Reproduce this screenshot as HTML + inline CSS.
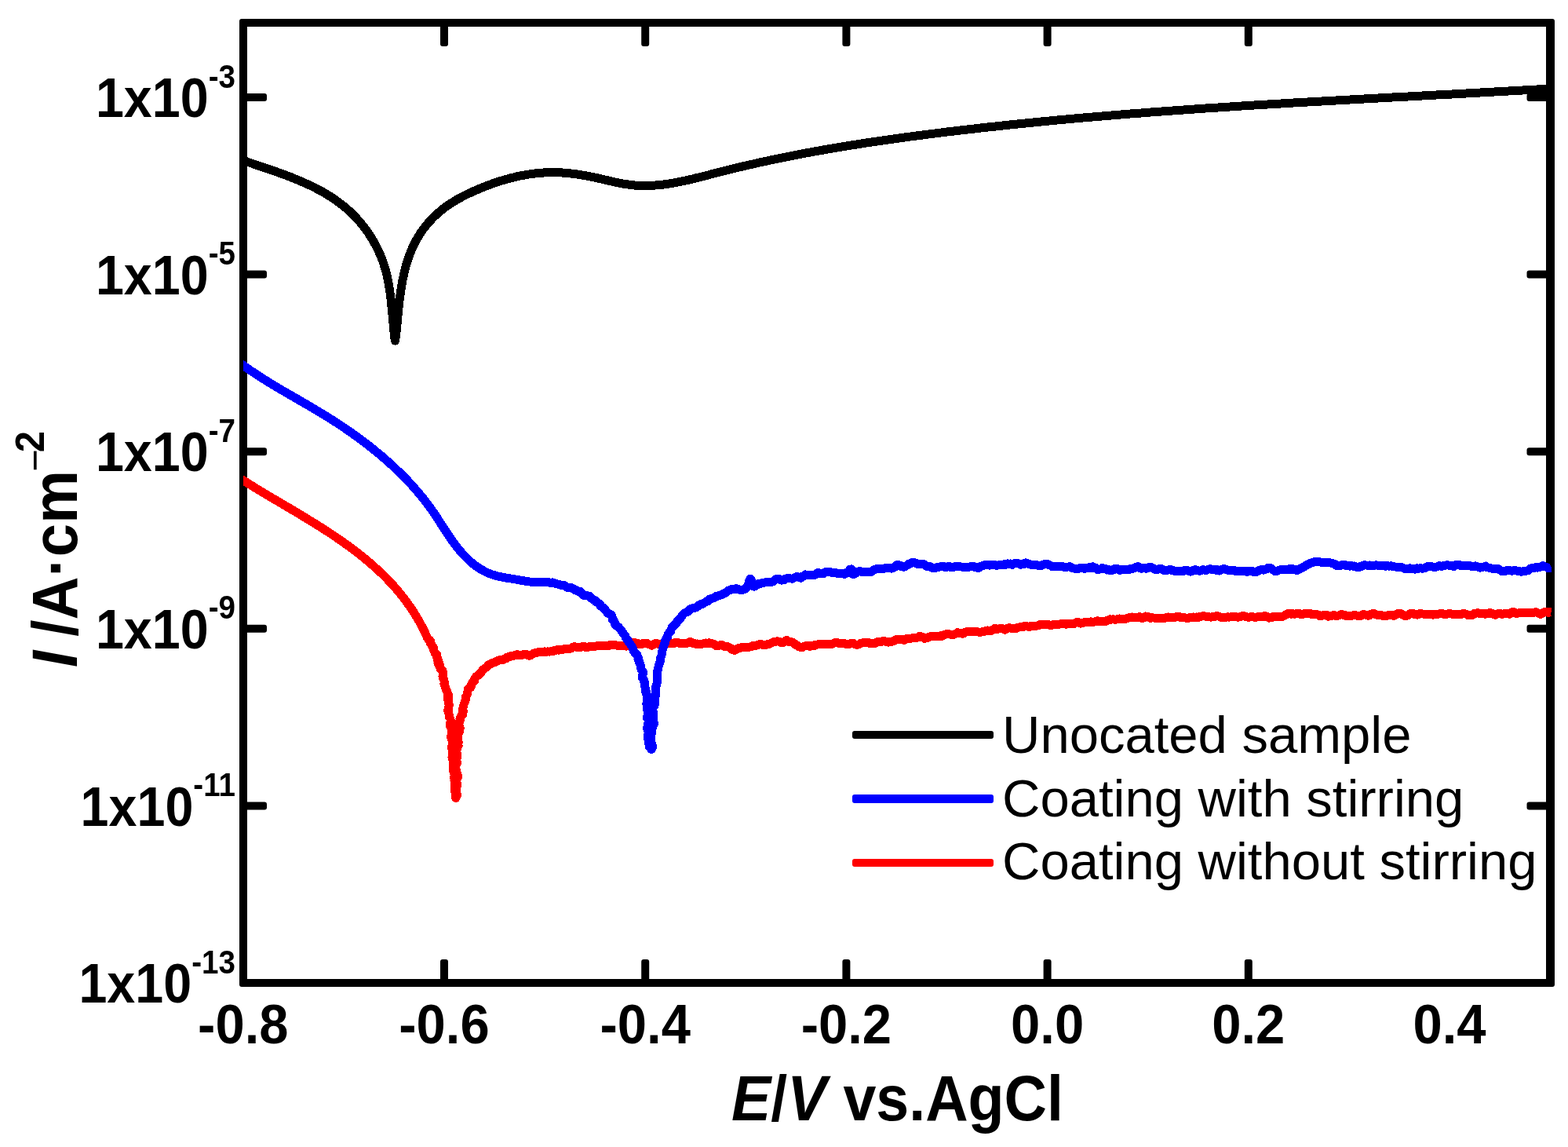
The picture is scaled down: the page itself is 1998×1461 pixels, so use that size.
<!DOCTYPE html>
<html><head><meta charset="utf-8"><title>Polarization curves</title>
<style>
html,body{margin:0;padding:0;background:#fff;}
body{width:1998px;height:1461px;overflow:hidden;}
svg{display:block;}
text{font-family:"Liberation Sans",Arial,Helvetica,sans-serif;}
</style></head>
<body>
<svg width="1998" height="1461" viewBox="0 0 1998 1461">
<rect width="1998" height="1461" fill="#fff"/>
<rect x="305" y="24" width="1676" height="1233" rx="3" fill="#000"/>
<rect x="315" y="34" width="1655" height="1213" fill="#fff"/>
<g fill="#000">
<rect x="561.0" y="1222" width="10" height="30" rx="3"/>
<rect x="561.0" y="29" width="10" height="30" rx="3"/>
<rect x="817.2" y="1222" width="10" height="30" rx="3"/>
<rect x="817.2" y="29" width="10" height="30" rx="3"/>
<rect x="1073.4" y="1222" width="10" height="30" rx="3"/>
<rect x="1073.4" y="29" width="10" height="30" rx="3"/>
<rect x="1329.6" y="1222" width="10" height="30" rx="3"/>
<rect x="1329.6" y="29" width="10" height="30" rx="3"/>
<rect x="1585.8" y="1222" width="10" height="30" rx="3"/>
<rect x="1585.8" y="29" width="10" height="30" rx="3"/>
<rect x="310" y="119.0" width="30" height="10" rx="3"/>
<rect x="1945.5" y="119.0" width="30" height="10" rx="3"/>
<rect x="310" y="344.6" width="30" height="10" rx="3"/>
<rect x="1945.5" y="344.6" width="30" height="10" rx="3"/>
<rect x="310" y="570.2" width="30" height="10" rx="3"/>
<rect x="1945.5" y="570.2" width="30" height="10" rx="3"/>
<rect x="310" y="795.8" width="30" height="10" rx="3"/>
<rect x="1945.5" y="795.8" width="30" height="10" rx="3"/>
<rect x="310" y="1021.4" width="30" height="10" rx="3"/>
<rect x="1945.5" y="1021.4" width="30" height="10" rx="3"/>
</g>
<defs><clipPath id="pc"><rect x="310" y="0" width="1667" height="1461"/></clipPath></defs>
<g fill="none" stroke-width="11" stroke-linejoin="round" clip-path="url(#pc)" shape-rendering="crispEdges">
<path stroke="#000" d="M304.3,202.4L306.1,203.1L308.0,203.7L309.8,204.4L311.6,205.0L313.5,205.6L315.4,206.3L317.2,206.9L319.1,207.6L321.0,208.2L322.9,208.8L324.7,209.5L326.6,210.1L328.5,210.8L330.4,211.4L332.3,212.0L334.3,212.7L336.2,213.3L338.1,214.0L340.0,214.6L341.9,215.3L343.8,216.0L345.8,216.6L347.7,217.3L349.6,218.0L351.5,218.6L353.5,219.3L355.4,220.0L357.3,220.7L359.2,221.4L361.1,222.1L363.1,222.8L365.0,223.5L366.9,224.3L368.8,225.0L370.7,225.7L372.6,226.5L374.5,227.3L376.4,228.0L378.3,228.8L380.2,229.6L382.1,230.4L384.0,231.2L385.9,232.0L387.7,232.8L389.6,233.7L391.5,234.5L393.3,235.4L395.2,236.2L397.0,237.1L398.8,238.0L400.6,238.9L402.5,239.8L404.3,240.8L406.1,241.7L407.8,242.7L409.6,243.7L411.4,244.6L413.1,245.6L414.9,246.7L416.6,247.7L418.3,248.8L420.1,249.8L421.8,250.9L423.4,252.0L425.1,253.1L426.8,254.2L428.4,255.4L430.1,256.6L431.7,257.8L433.3,259.0L434.9,260.2L436.5,261.4L438.0,262.7L439.6,264.0L441.1,265.3L442.6,266.6L444.1,267.9L445.6,269.3L447.1,270.7L448.5,272.1L449.9,273.5L451.3,274.9L452.7,276.4L454.1,277.8L455.5,279.3L456.8,280.8L458.2,282.3L459.5,283.8L460.7,285.4L462.0,287.0L463.3,288.5L464.5,290.1L465.7,291.7L466.9,293.4L468.1,295.0L469.2,296.6L470.3,298.3L471.4,300.0L472.5,301.7L473.6,303.4L474.6,305.1L475.7,306.9L476.7,308.6L477.6,310.4L478.6,312.1L479.5,313.9L480.4,315.7L481.3,317.5L482.2,319.3L483.0,321.2L483.9,323.0L484.7,324.9L485.4,326.7L486.2,328.6L486.9,330.5L487.6,332.4L488.3,334.3L488.9,336.2L489.5,338.1L490.1,340.0L490.7,342.0L491.2,343.9L491.8,345.9L492.3,347.8L492.8,349.8L493.2,351.8L493.7,353.8L494.1,355.8L494.5,357.8L494.9,359.8L495.2,361.8L495.6,363.8L495.9,365.8L496.3,367.8L496.6,369.8L496.9,371.8L497.1,373.9L497.4,375.9L497.7,377.9L497.9,380.0L498.2,382.0L498.4,384.0L498.6,386.1L498.8,388.1L499.0,390.1L499.2,392.2L499.4,394.2L499.6,396.2L499.8,398.3L500.0,400.3L500.2,402.3L500.4,404.3L500.5,406.4L500.7,408.4L500.9,410.4L501.1,412.4L501.2,414.4L501.4,416.4L501.6,418.4L501.8,420.4L502.0,422.4L502.2,424.4L502.4,426.3L502.6,428.3L502.8,430.3L503.1,432.2L503.5,434.1L503.9,432.2L504.1,430.2L504.3,428.3L504.6,426.3L504.8,424.4L505.0,422.4L505.2,420.5L505.4,418.5L505.6,416.6L505.8,414.6L506.0,412.6L506.2,410.6L506.4,408.7L506.6,406.7L506.8,404.7L506.9,402.7L507.1,400.7L507.3,398.7L507.5,396.7L507.7,394.8L507.9,392.8L508.1,390.8L508.4,388.8L508.6,386.8L508.8,384.7L509.0,382.7L509.3,380.7L509.5,378.7L509.8,376.7L510.1,374.7L510.3,372.7L510.6,370.7L510.9,368.7L511.3,366.7L511.6,364.7L511.9,362.7L512.3,360.7L512.7,358.7L513.0,356.7L513.4,354.7L513.9,352.7L514.3,350.7L514.7,348.7L515.2,346.8L515.7,344.8L516.2,342.8L516.7,340.9L517.2,338.9L517.8,337.0L518.4,335.0L519.0,333.1L519.6,331.2L520.2,329.3L520.9,327.4L521.5,325.5L522.2,323.6L523.0,321.8L523.7,319.9L524.5,318.1L525.3,316.2L526.1,314.4L527.0,312.6L527.8,310.8L528.7,309.1L529.6,307.3L530.6,305.6L531.6,303.8L532.6,302.1L533.6,300.4L534.7,298.8L535.7,297.1L536.8,295.5L538.0,293.8L539.1,292.2L540.3,290.6L541.5,289.1L542.8,287.5L544.0,286.0L545.3,284.5L546.6,283.0L547.9,281.5L549.3,280.0L550.6,278.6L552.0,277.2L553.4,275.8L554.9,274.4L556.3,273.1L557.8,271.7L559.3,270.4L560.8,269.1L562.3,267.9L563.9,266.6L565.4,265.4L567.0,264.2L568.6,263.0L570.2,261.9L571.9,260.8L573.5,259.7L575.2,258.6L576.9,257.5L578.6,256.5L580.3,255.4L582.0,254.4L583.7,253.4L585.5,252.5L587.2,251.5L589.0,250.6L590.8,249.7L592.6,248.7L594.4,247.9L596.2,247.0L598.0,246.1L599.8,245.3L601.7,244.4L603.5,243.6L605.4,242.8L607.2,242.0L609.1,241.2L610.9,240.4L612.8,239.6L614.7,238.8L616.6,238.1L618.4,237.3L620.3,236.6L622.2,235.9L624.1,235.2L626.0,234.5L627.9,233.8L629.9,233.1L631.8,232.5L633.7,231.8L635.6,231.2L637.6,230.6L639.5,230.0L641.4,229.4L643.4,228.8L645.3,228.3L647.3,227.8L649.2,227.2L651.2,226.7L653.1,226.2L655.1,225.8L657.0,225.3L659.0,224.8L661.0,224.4L662.9,224.0L664.9,223.6L666.9,223.2L668.8,222.9L670.8,222.5L672.8,222.2L674.8,221.9L676.7,221.6L678.7,221.4L680.7,221.1L682.7,220.9L684.7,220.7L686.6,220.5L688.6,220.3L690.6,220.1L692.6,220.0L694.6,219.9L696.5,219.8L698.5,219.7L700.5,219.7L702.5,219.7L704.5,219.6L706.4,219.7L708.4,219.7L710.4,219.7L712.4,219.8L714.3,219.9L716.3,220.0L718.3,220.1L720.3,220.3L722.2,220.5L724.2,220.6L726.2,220.8L728.2,221.1L730.1,221.3L732.1,221.5L734.1,221.8L736.1,222.1L738.0,222.4L740.0,222.7L742.0,223.0L744.0,223.4L745.9,223.7L747.9,224.1L749.9,224.4L751.9,224.8L753.8,225.2L755.8,225.7L757.8,226.1L759.8,226.5L761.8,227.0L763.7,227.4L765.7,227.9L767.7,228.3L769.7,228.8L771.7,229.3L773.7,229.7L775.7,230.2L777.6,230.6L779.6,231.1L781.6,231.5L783.6,232.0L785.6,232.4L787.6,232.8L789.5,233.2L791.5,233.6L793.5,234.0L795.5,234.3L797.5,234.6L799.5,234.9L801.4,235.2L803.4,235.5L805.4,235.7L807.4,235.9L809.3,236.1L811.3,236.2L813.3,236.3L815.3,236.4L817.2,236.5L819.2,236.5L821.2,236.5L823.1,236.5L825.1,236.5L827.1,236.5L829.0,236.4L831.0,236.3L833.0,236.2L834.9,236.0L836.9,235.9L838.9,235.7L840.8,235.5L842.8,235.3L844.7,235.1L846.7,234.8L848.7,234.6L850.6,234.3L852.6,234.0L854.5,233.7L856.5,233.3L858.4,233.0L860.4,232.7L862.4,232.3L864.3,231.9L866.3,231.5L868.2,231.1L870.2,230.7L872.1,230.3L874.1,229.9L876.0,229.4L878.0,229.0L879.9,228.5L881.9,228.1L883.8,227.6L885.8,227.1L887.8,226.6L889.7,226.2L891.7,225.7L893.6,225.2L895.6,224.7L897.5,224.2L899.5,223.7L901.4,223.2L903.4,222.7L905.3,222.1L907.3,221.6L909.2,221.1L911.2,220.6L913.1,220.1L915.1,219.6L917.0,219.1L919.0,218.6L920.9,218.1L922.9,217.6L924.9,217.1L926.8,216.7L928.8,216.2L930.7,215.7L932.7,215.2L934.6,214.7L936.6,214.3L938.5,213.8L940.5,213.3L942.5,212.8L944.4,212.4L946.4,211.9L948.3,211.5L950.3,211.0L952.3,210.6L954.2,210.1L956.2,209.7L958.1,209.2L960.1,208.8L962.1,208.3L964.0,207.9L966.0,207.4L967.9,207.0L969.9,206.6L971.9,206.1L973.8,205.7L975.8,205.3L977.7,204.9L979.7,204.5L981.7,204.0L983.6,203.6L985.6,203.2L987.6,202.8L989.5,202.4L991.5,202.0L993.5,201.6L995.4,201.2L997.4,200.8L999.4,200.4L1001.3,200.0L1003.3,199.6L1005.3,199.2L1007.2,198.8L1009.2,198.4L1011.2,198.0L1013.1,197.6L1015.1,197.3L1017.1,196.9L1019.0,196.5L1021.0,196.1L1023.0,195.8L1024.9,195.4L1026.9,195.0L1028.9,194.6L1030.8,194.3L1032.8,193.9L1034.8,193.6L1036.7,193.2L1038.7,192.8L1040.7,192.5L1042.7,192.1L1044.6,191.8L1046.6,191.4L1048.6,191.1L1050.5,190.7L1052.5,190.4L1054.5,190.0L1056.5,189.7L1058.4,189.4L1060.4,189.0L1062.4,188.7L1064.4,188.4L1066.3,188.0L1068.3,187.7L1070.3,187.4L1072.2,187.0L1074.2,186.7L1076.2,186.4L1078.2,186.1L1080.1,185.8L1082.1,185.4L1084.1,185.1L1086.1,184.8L1088.0,184.5L1090.0,184.2L1092.0,183.9L1094.0,183.6L1096.0,183.2L1097.9,182.9L1099.9,182.6L1101.9,182.3L1103.9,182.0L1105.8,181.7L1107.8,181.4L1109.8,181.1L1111.8,180.8L1113.7,180.5L1115.7,180.3L1117.7,180.0L1119.7,179.7L1121.7,179.4L1123.6,179.1L1125.6,178.8L1127.6,178.5L1129.6,178.2L1131.6,178.0L1133.5,177.7L1135.5,177.4L1137.5,177.1L1139.5,176.8L1141.5,176.6L1143.4,176.3L1145.4,176.0L1147.4,175.7L1149.4,175.5L1151.4,175.2L1153.4,174.9L1155.3,174.7L1157.3,174.4L1159.3,174.1L1161.3,173.9L1163.3,173.6L1165.2,173.3L1167.2,173.1L1169.2,172.8L1171.2,172.6L1173.2,172.3L1175.2,172.0L1177.1,171.8L1179.1,171.5L1181.1,171.3L1183.1,171.0L1185.1,170.8L1187.1,170.5L1189.0,170.3L1191.0,170.0L1193.0,169.8L1195.0,169.5L1197.0,169.3L1199.0,169.0L1201.0,168.8L1202.9,168.5L1204.9,168.3L1206.9,168.0L1208.9,167.8L1210.9,167.6L1212.9,167.3L1214.9,167.1L1216.8,166.8L1218.8,166.6L1220.8,166.4L1222.8,166.1L1224.8,165.9L1226.8,165.7L1228.8,165.4L1230.8,165.2L1232.7,165.0L1234.7,164.7L1236.7,164.5L1238.7,164.3L1240.7,164.1L1242.7,163.8L1244.7,163.6L1246.7,163.4L1248.6,163.2L1250.6,162.9L1252.6,162.7L1254.6,162.5L1256.6,162.3L1258.6,162.0L1260.6,161.8L1262.6,161.6L1264.6,161.4L1266.5,161.2L1268.5,161.0L1270.5,160.7L1272.5,160.5L1274.5,160.3L1276.5,160.1L1278.5,159.9L1280.5,159.7L1282.5,159.5L1284.5,159.3L1286.4,159.0L1288.4,158.8L1290.4,158.6L1292.4,158.4L1294.4,158.2L1296.4,158.0L1298.4,157.8L1300.4,157.6L1302.4,157.4L1304.4,157.2L1306.4,157.0L1308.3,156.8L1310.3,156.6L1312.3,156.4L1314.3,156.2L1316.3,156.0L1318.3,155.8L1320.3,155.6L1322.3,155.4L1324.3,155.2L1326.3,155.0L1328.3,154.8L1330.3,154.6L1332.3,154.4L1334.2,154.3L1336.2,154.1L1338.2,153.9L1340.2,153.7L1342.2,153.5L1344.2,153.3L1346.2,153.1L1348.2,152.9L1350.2,152.7L1352.2,152.6L1354.2,152.4L1356.2,152.2L1358.2,152.0L1360.2,151.8L1362.2,151.6L1364.2,151.5L1366.1,151.3L1368.1,151.1L1370.1,150.9L1372.1,150.7L1374.1,150.6L1376.1,150.4L1378.1,150.2L1380.1,150.0L1382.1,149.9L1384.1,149.7L1386.1,149.5L1388.1,149.3L1390.1,149.2L1392.1,149.0L1394.1,148.8L1396.1,148.7L1398.1,148.5L1400.1,148.3L1402.1,148.1L1404.1,148.0L1406.1,147.8L1408.1,147.6L1410.1,147.5L1412.0,147.3L1414.0,147.1L1416.0,147.0L1418.0,146.8L1420.0,146.7L1422.0,146.5L1424.0,146.3L1426.0,146.2L1428.0,146.0L1430.0,145.8L1432.0,145.7L1434.0,145.5L1436.0,145.4L1438.0,145.2L1440.0,145.0L1442.0,144.9L1444.0,144.7L1446.0,144.6L1448.0,144.4L1450.0,144.3L1452.0,144.1L1454.0,144.0L1456.0,143.8L1458.0,143.6L1460.0,143.5L1462.0,143.3L1464.0,143.2L1466.0,143.0L1468.0,142.9L1470.0,142.7L1472.0,142.6L1474.0,142.4L1476.0,142.3L1478.0,142.1L1480.0,142.0L1482.0,141.8L1484.0,141.7L1486.0,141.6L1488.0,141.4L1490.0,141.3L1492.0,141.1L1494.0,141.0L1496.0,140.8L1498.0,140.7L1500.0,140.5L1502.0,140.4L1504.0,140.3L1506.0,140.1L1508.0,140.0L1510.0,139.8L1512.0,139.7L1514.0,139.6L1516.0,139.4L1518.0,139.3L1520.0,139.1L1522.0,139.0L1524.0,138.9L1525.9,138.7L1527.9,138.6L1529.9,138.5L1531.9,138.3L1533.9,138.2L1535.9,138.0L1537.9,137.9L1539.9,137.8L1541.9,137.6L1543.9,137.5L1545.9,137.4L1547.9,137.2L1550.0,137.1L1552.0,137.0L1554.0,136.8L1556.0,136.7L1558.0,136.6L1560.0,136.5L1562.0,136.3L1564.0,136.2L1566.0,136.1L1568.0,135.9L1570.0,135.8L1572.0,135.7L1574.0,135.6L1576.0,135.4L1578.0,135.3L1580.0,135.2L1582.0,135.0L1584.0,134.9L1586.0,134.8L1588.0,134.7L1590.0,134.5L1592.0,134.4L1594.0,134.3L1596.0,134.2L1598.0,134.0L1600.0,133.9L1602.0,133.8L1604.0,133.7L1606.0,133.6L1608.0,133.4L1610.0,133.3L1612.0,133.2L1614.0,133.1L1616.0,132.9L1618.0,132.8L1620.0,132.7L1622.0,132.6L1624.0,132.5L1626.0,132.3L1628.0,132.2L1630.0,132.1L1632.0,132.0L1634.0,131.9L1636.0,131.7L1638.0,131.6L1640.0,131.5L1642.0,131.4L1644.0,131.3L1646.0,131.2L1648.0,131.0L1650.0,130.9L1652.0,130.8L1654.0,130.7L1656.0,130.6L1658.0,130.5L1660.0,130.3L1662.0,130.2L1664.0,130.1L1666.0,130.0L1668.0,129.9L1670.0,129.8L1672.0,129.7L1674.0,129.5L1676.0,129.4L1678.0,129.3L1680.0,129.2L1682.0,129.1L1684.0,129.0L1686.0,128.9L1688.0,128.7L1690.0,128.6L1692.0,128.5L1694.0,128.4L1696.0,128.3L1698.0,128.2L1700.0,128.1L1702.0,128.0L1704.0,127.9L1706.0,127.7L1708.0,127.6L1710.0,127.5L1712.0,127.4L1714.0,127.3L1716.0,127.2L1718.0,127.1L1720.0,127.0L1722.0,126.9L1724.0,126.7L1726.0,126.6L1728.0,126.5L1730.0,126.4L1732.0,126.3L1734.0,126.2L1736.0,126.1L1738.0,126.0L1740.0,125.9L1742.0,125.8L1744.0,125.7L1746.0,125.5L1748.0,125.4L1750.0,125.3L1752.0,125.2L1754.0,125.1L1756.0,125.0L1758.1,124.9L1760.1,124.8L1762.1,124.7L1764.1,124.6L1766.1,124.5L1768.1,124.4L1770.1,124.2L1772.1,124.1L1774.1,124.0L1776.1,123.9L1778.1,123.8L1780.1,123.7L1782.1,123.6L1784.1,123.5L1786.1,123.4L1788.1,123.3L1790.1,123.2L1792.1,123.1L1794.1,123.0L1796.1,122.9L1798.1,122.7L1800.1,122.6L1802.1,122.5L1804.1,122.4L1806.1,122.3L1808.1,122.2L1810.1,122.1L1812.1,122.0L1814.1,121.9L1816.1,121.8L1818.1,121.7L1820.1,121.6L1822.1,121.5L1824.1,121.4L1826.1,121.2L1828.1,121.1L1830.1,121.0L1832.1,120.9L1834.1,120.8L1836.0,120.7L1838.0,120.6L1840.0,120.5L1842.0,120.4L1844.0,120.3L1846.0,120.2L1848.0,120.1L1850.0,120.0L1852.0,119.8L1854.0,119.7L1856.0,119.6L1858.0,119.5L1860.0,119.4L1862.0,119.3L1864.0,119.2L1866.0,119.1L1868.0,119.0L1870.0,118.9L1872.0,118.8L1874.0,118.7L1876.0,118.6L1878.0,118.4L1880.0,118.3L1882.0,118.2L1884.0,118.1L1886.0,118.0L1888.0,117.9L1890.0,117.8L1892.0,117.7L1894.0,117.6L1896.0,117.5L1898.0,117.4L1900.0,117.2L1902.0,117.1L1904.0,117.0L1906.0,116.9L1908.0,116.8L1910.0,116.7L1912.0,116.6L1914.0,116.5L1916.0,116.4L1918.0,116.2L1920.0,116.1L1922.0,116.0L1924.0,115.9L1926.0,115.8L1927.9,115.7L1929.9,115.6L1931.9,115.5L1933.9,115.3L1935.9,115.2L1937.9,115.1L1939.9,115.0L1941.9,114.9L1943.9,114.8L1945.9,114.7L1947.9,114.6L1949.9,114.4L1951.9,114.3L1953.9,114.2L1955.9,114.1L1957.9,114.0L1959.9,113.9L1961.9,113.8L1963.9,113.6L1965.9,113.5L1967.9,113.4L1969.9,113.3L1971.8,113.2L1973.8,113.1L1975.8,112.9"/>
<path stroke="#ff0000" d="M303.9,608.0L305.6,609.1L307.2,610.2L308.9,611.2L310.6,612.3L312.3,613.4L314.0,614.4L315.7,615.5L317.4,616.5L319.1,617.6L320.8,618.6L322.5,619.7L324.2,620.7L325.9,621.8L327.6,622.8L329.3,623.9L331.0,624.9L332.8,625.9L334.5,627.0L336.2,628.0L338.0,629.1L339.7,630.1L341.4,631.1L343.2,632.2L344.9,633.2L346.6,634.2L348.4,635.3L350.1,636.3L351.9,637.3L353.6,638.3L355.4,639.4L357.1,640.4L358.9,641.4L360.6,642.5L362.4,643.5L364.1,644.5L365.9,645.6L367.6,646.6L369.4,647.6L371.1,648.7L372.9,649.7L374.6,650.8L376.4,651.8L378.1,652.8L379.9,653.9L381.6,654.9L383.3,656.0L385.1,657.0L386.8,658.1L388.6,659.1L390.3,660.2L392.1,661.3L393.8,662.3L395.5,663.4L397.3,664.5L399.0,665.5L400.7,666.6L402.5,667.7L404.2,668.7L405.9,669.8L407.6,670.9L409.4,672.0L411.1,673.1L412.8,674.2L414.5,675.3L416.2,676.4L417.9,677.5L419.6,678.6L421.3,679.7L423.0,680.9L424.7,682.0L426.4,683.1L428.0,684.2L429.7,685.4L431.4,686.5L433.1,687.7L434.7,688.8L436.4,690.0L438.0,691.2L439.7,692.3L441.3,693.5L443.0,694.7L444.6,695.9L446.2,697.1L447.8,698.3L449.5,699.5L451.1,700.7L452.7,701.9L454.3,703.1L455.9,704.3L457.5,705.6L459.0,706.8L460.6,708.1L462.2,709.3L463.7,710.6L465.3,711.9L466.8,713.2L468.4,714.4L469.9,715.7L471.4,717.0L473.0,718.3L474.5,719.7L476.0,721.0L477.5,722.3L478.9,723.7L480.4,725.0L481.9,726.4L483.4,727.7L484.8,729.1L486.3,730.5L487.7,731.9L489.1,733.3L490.5,734.7L492.0,736.1L493.4,737.6L494.7,739.0L496.1,740.4L497.5,741.9L498.9,743.4L500.2,744.8L501.6,746.3L502.9,747.8L504.2,749.3L505.5,750.9L506.8,752.4L508.1,753.9L509.4,755.5L510.7,757.0L511.9,758.6L513.2,760.2L514.4,761.8L515.6,763.4L516.9,765.0L518.1,766.6L519.3,768.3L520.4,769.9L521.6,771.6L522.8,773.2L523.9,774.9L525.0,776.6L526.2,778.3L527.3,780.0L528.4,781.8L529.4,783.5L530.5,785.3L531.6,787.1L532.6,788.8L533.6,790.6L534.7,792.4L535.7,794.3L536.6,796.1L537.6,797.9L538.6,799.8L539.5,801.7L540.5,803.6L541.4,805.5L542.3,807.4L543.2,809.3L544.1,811.3L544.9,813.2L546.0,814.5L547.8,815.3L548.8,817.2L548.6,819.6L550.2,821.1L550.5,823.2L552.5,824.6L552.6,826.8L552.9,828.9L553.9,830.7L554.6,832.7L556.7,834.0L556.4,836.3L557.6,838.1L557.4,840.3L558.7,842.0L558.0,844.4L560.2,845.8L559.5,848.2L560.8,849.9L561.0,851.9L563.5,853.3L564.2,855.2L564.2,857.3L564.1,859.5L564.0,861.6L564.3,863.6L565.4,865.4L566.0,867.3L566.4,869.3L565.9,871.5L566.9,873.4L567.4,875.3L568.2,877.2L568.7,879.2L570.0,881.0L570.0,883.0L571.3,884.9L570.7,887.0L571.4,889.0L570.7,891.1L571.4,893.1L571.5,895.1L572.1,897.1L572.2,899.1L571.5,901.3L571.0,903.4L570.6,905.5L571.9,907.3L571.9,909.4L572.4,911.4L572.5,913.4L573.6,915.3L574.2,917.3L574.3,919.3L573.7,921.4L573.7,923.5L573.8,925.5L575.2,927.4L575.5,929.5L576.1,931.5L575.4,933.6L575.5,935.6L574.8,937.7L574.9,939.7L575.5,941.7L576.0,943.7L577.2,945.7L576.7,947.8L576.2,949.8L575.3,951.9L576.2,953.9L576.5,955.9L577.0,958.0L576.7,960.0L576.1,962.1L576.0,964.1L576.4,966.1L577.2,968.1L577.4,970.2L577.7,972.2L578.1,974.2L577.7,976.2L577.5,978.3L577.1,980.3L577.9,982.3L578.5,984.3L579.1,986.3L579.5,988.3L578.6,990.4L579.2,992.4L579.0,994.4L579.7,996.4L579.5,998.4L579.3,1000.5L579.2,1002.5L580.0,1004.5L580.0,1006.5L579.8,1008.5L580.2,1010.5L580.3,1012.5L580.9,1014.5L580.8,1016.5L581.8,1014.4L582.6,1012.5L581.7,1010.4L581.8,1008.4L581.3,1006.4L581.8,1004.4L581.9,1002.4L582.6,1000.4L582.4,998.4L581.8,996.4L581.6,994.4L582.3,992.4L583.3,990.4L583.4,988.3L582.9,986.3L581.9,984.3L581.4,982.2L581.2,980.2L580.4,978.2L580.5,976.1L581.0,974.1L582.5,972.1L582.1,970.1L581.7,968.0L581.8,966.0L582.7,964.0L582.8,962.0L582.5,960.0L581.7,957.9L581.8,955.8L582.4,953.8L583.1,951.9L584.1,949.9L583.6,947.8L584.2,945.8L583.6,943.8L583.9,941.8L583.8,939.7L583.0,937.6L583.8,935.7L584.0,933.6L585.6,931.8L585.2,929.7L586.2,927.8L585.6,925.7L585.1,923.6L584.6,921.5L585.5,919.6L586.2,917.6L586.0,915.5L587.0,913.7L587.5,911.7L589.6,910.1L589.2,908.0L590.5,906.2L589.7,904.0L590.0,902.0L590.1,899.9L590.9,898.0L591.4,896.1L592.3,894.2L592.8,892.3L593.5,890.4L593.3,888.1L594.3,886.3L595.2,884.5L595.9,882.6L596.0,880.5L596.1,878.3L597.8,876.8L599.9,875.6L600.7,873.7L600.7,871.5L601.7,869.8L603.1,868.3L604.9,867.1L604.7,864.6L605.9,863.0L607.1,861.4L608.9,860.3L610.7,859.3L611.9,857.7L613.3,856.4L614.4,854.7L615.3,852.8L617.1,851.9L618.7,850.7L620.5,849.7L621.6,847.8L623.2,846.5L625.1,845.8L626.8,844.6L628.8,844.0L630.9,843.6L632.5,842.1L634.5,841.5L636.4,840.7L638.6,840.6L640.7,840.5L642.5,839.1L644.6,839.0L646.2,837.2L648.3,836.6L650.2,836.2L651.1,835.6L652.4,835.7L653.8,835.4L655.4,834.8L657.1,834.3L658.9,833.6L661.0,834.3L663.2,834.9L665.4,834.4L667.5,833.2L669.8,833.3L672.3,834.6L674.8,835.2L677.0,834.2L679.2,832.7L681.4,831.8L683.6,831.5L685.8,830.7L687.9,830.5L690.0,830.2L692.0,830.3L694.0,829.9L696.1,830.4L698.1,829.9L700.2,830.1L702.1,829.5L704.2,829.9L706.1,828.7L708.1,828.2L710.0,827.7L712.1,828.2L714.1,827.6L716.1,827.6L718.1,826.9L720.1,827.0L722.1,826.1L724.1,826.5L726.2,826.5L728.1,825.7L730.0,824.4L731.9,823.7L734.0,824.0L736.1,824.7L738.1,824.9L740.1,824.4L742.1,823.7L744.0,823.2L746.2,824.7L748.1,824.3L750.1,824.2L752.1,823.0L754.1,823.9L756.1,823.7L758.1,823.3L760.1,822.9L762.1,822.8L764.1,822.7L766.1,822.8L768.1,822.2L770.1,822.0L772.1,822.1L774.1,822.4L776.1,822.3L778.1,821.3L780.1,821.1L782.1,821.3L784.1,821.7L786.2,822.1L788.2,822.2L790.2,822.7L792.2,822.0L794.2,822.7L796.2,822.5L798.2,823.1L800.2,821.4L802.2,821.4L804.2,819.9L806.2,820.6L808.1,818.2L810.2,819.2L812.2,819.3L814.2,820.9L816.2,820.7L818.2,820.3L820.2,819.1L822.2,819.4L824.2,819.2L826.2,820.6L828.2,821.2L830.3,822.2L832.2,821.2L834.2,820.0L836.2,819.3L838.2,820.2L840.2,820.3L842.2,820.2L844.2,819.8L846.2,819.8L848.2,819.8L850.2,819.7L852.2,819.7L854.2,819.7L856.3,819.9L858.4,819.6L860.4,818.5L862.5,818.1L864.6,818.8L866.7,819.8L868.7,819.4L870.8,819.1L872.9,819.6L874.9,819.4L876.9,818.6L878.9,817.7L880.9,817.9L882.8,819.5L884.7,819.5L886.6,820.4L888.4,820.0L890.2,820.9L892.5,820.7L894.8,820.1L897.1,819.6L899.4,819.0L901.6,819.1L903.8,818.9L905.9,819.6L908.0,819.8L909.9,820.7L911.8,821.4L913.5,823.0L915.3,822.9L917.1,821.9L918.8,821.6L920.3,821.8L922.9,823.5L925.5,823.2L927.5,824.0L929.3,824.6L930.9,825.5L932.3,826.9L934.2,827.9L936.2,828.5L938.1,827.5L939.9,826.2L941.8,825.5L943.8,825.1L945.8,824.6L948.1,824.6L950.2,824.0L952.1,824.0L953.9,824.2L955.6,824.0L957.4,823.8L959.1,822.7L961.1,823.0L963.1,822.5L965.2,821.7L967.5,820.9L970.1,820.5L971.9,821.5L973.8,821.4L975.8,821.5L977.7,820.7L979.8,820.5L981.9,819.5L984.0,818.5L986.2,817.5L988.4,817.2L990.7,816.8L993.0,817.2L995.3,818.6L997.4,818.8L999.3,817.3L1001.0,816.0L1002.8,815.6L1004.4,817.2L1007.2,817.5L1009.5,818.1L1011.3,819.0L1012.9,820.0L1014.1,821.5L1016.0,821.9L1017.7,823.9L1020.3,824.4L1022.1,824.7L1023.9,823.5L1025.7,823.0L1027.7,822.7L1029.7,822.4L1032.0,823.4L1034.1,822.7L1036.4,823.0L1038.5,821.6L1040.8,821.2L1043.1,820.6L1045.4,820.6L1047.8,821.0L1050.0,820.8L1051.9,820.5L1053.7,820.5L1055.6,820.5L1057.5,820.9L1059.4,820.5L1061.3,820.0L1063.2,818.9L1065.1,818.5L1067.1,818.8L1069.1,819.5L1071.1,819.8L1073.1,819.5L1075.2,819.3L1077.4,820.2L1079.5,820.7L1081.8,820.7L1084.0,819.6L1085.8,819.0L1087.6,819.6L1089.5,820.7L1091.5,821.3L1093.4,821.1L1095.3,820.4L1097.3,819.2L1099.3,818.9L1101.3,818.1L1103.3,818.2L1105.4,818.2L1107.5,818.9L1109.6,819.9L1111.7,819.8L1113.8,819.8L1115.8,818.8L1117.8,817.8L1119.9,817.4L1122.0,817.4L1124.0,817.1L1126.0,816.2L1128.0,816.9L1130.1,817.8L1132.2,818.1L1134.1,817.4L1136.2,817.3L1138.1,816.7L1140.1,816.0L1141.9,814.7L1144.0,814.8L1145.9,814.1L1148.0,814.6L1150.1,814.9L1152.2,815.2L1154.1,814.3L1156.0,813.4L1158.0,813.4L1160.1,813.3L1162.1,812.9L1164.0,812.3L1166.1,812.5L1168.1,812.2L1170.1,811.7L1171.9,810.4L1174.1,811.2L1176.2,811.8L1178.3,813.4L1180.3,812.7L1182.3,812.4L1184.2,811.0L1186.2,810.7L1188.1,810.1L1190.2,810.4L1192.2,810.1L1194.2,810.0L1196.3,810.6L1198.2,809.9L1200.3,810.2L1202.2,808.8L1204.2,808.4L1206.1,807.6L1208.1,807.4L1210.2,808.0L1212.2,808.4L1214.3,808.8L1216.2,807.9L1218.2,807.1L1220.1,805.7L1222.1,806.3L1224.2,806.7L1226.3,807.2L1228.2,806.6L1230.1,805.1L1232.0,804.5L1234.1,804.4L1236.1,804.6L1238.1,804.7L1240.1,804.4L1242.2,804.6L1244.2,804.9L1246.3,804.9L1248.3,805.3L1250.3,805.0L1252.3,804.9L1254.3,804.2L1256.2,803.5L1258.2,803.0L1260.2,803.2L1262.3,803.9L1264.2,802.5L1266.1,801.6L1268.0,800.3L1270.2,801.4L1272.2,801.0L1274.1,800.6L1276.1,800.1L1278.3,801.2L1280.4,802.2L1282.3,801.1L1284.2,800.1L1286.2,799.7L1288.3,800.2L1290.3,800.1L1292.4,800.4L1294.4,800.5L1296.3,799.7L1298.3,799.0L1300.3,798.8L1302.3,799.0L1304.3,798.0L1306.2,797.3L1308.3,797.9L1310.3,798.1L1312.3,798.4L1314.3,797.1L1316.3,797.0L1318.3,797.0L1320.3,797.2L1322.3,796.9L1324.3,796.2L1326.2,795.3L1328.2,795.3L1330.2,795.4L1332.3,795.7L1334.2,795.2L1336.3,795.9L1338.3,796.3L1340.3,796.4L1342.3,795.5L1344.3,795.1L1346.3,795.6L1348.3,795.6L1350.3,795.1L1352.3,794.4L1354.3,794.1L1356.3,794.5L1358.4,795.1L1360.4,794.9L1362.3,794.5L1364.3,794.3L1366.4,794.6L1368.4,794.5L1370.3,793.3L1372.3,792.6L1374.3,792.8L1376.4,794.1L1378.4,793.9L1380.4,793.3L1382.4,792.6L1384.4,792.9L1386.4,792.8L1388.4,792.1L1390.4,791.9L1392.4,792.7L1394.4,792.0L1396.4,791.6L1398.3,790.8L1400.5,791.7L1402.5,791.6L1404.5,791.8L1406.5,791.2L1408.6,791.7L1410.4,790.3L1412.4,790.0L1414.3,788.8L1416.4,789.1L1418.4,788.8L1420.5,789.2L1422.5,789.0L1424.4,788.6L1426.4,788.0L1428.4,788.1L1430.5,788.6L1432.5,788.7L1434.5,788.3L1436.4,787.6L1438.4,786.9L1440.4,786.2L1442.4,786.0L1444.3,786.1L1446.3,787.0L1448.2,786.6L1450.0,786.1L1451.9,785.7L1453.8,786.9L1455.7,787.4L1457.7,786.8L1459.6,785.0L1461.6,785.4L1463.7,785.9L1465.8,787.3L1467.9,786.9L1470.2,787.0L1472.5,787.3L1474.9,787.6L1477.4,787.7L1480.0,787.1L1481.7,787.1L1483.4,787.3L1485.1,787.2L1486.8,786.2L1488.6,786.0L1490.4,786.2L1492.3,786.4L1494.1,786.7L1496.0,786.5L1497.9,786.2L1499.9,785.1L1501.8,785.0L1503.8,786.3L1505.8,786.8L1507.8,786.9L1509.8,786.8L1511.9,787.2L1514.0,787.5L1516.0,786.6L1518.1,787.0L1520.2,786.0L1522.3,786.8L1524.5,786.0L1526.6,786.8L1528.7,785.4L1530.9,785.2L1533.0,784.7L1535.2,785.0L1537.3,785.2L1539.5,785.5L1541.6,786.0L1543.8,786.0L1545.9,785.8L1548.1,785.2L1550.0,784.6L1551.9,784.8L1553.9,785.5L1555.9,786.5L1558.0,786.8L1560.1,786.9L1562.2,786.4L1564.3,785.8L1566.5,786.1L1568.7,785.7L1570.9,785.7L1573.1,785.1L1575.3,785.9L1577.6,786.2L1579.8,785.8L1582.0,784.9L1584.2,784.4L1586.5,785.1L1588.7,785.8L1590.9,786.3L1593.1,785.8L1595.2,786.0L1597.4,785.9L1599.5,786.4L1601.6,785.9L1603.7,785.9L1605.7,785.5L1607.7,785.1L1609.6,785.1L1611.5,784.6L1613.4,785.5L1615.2,785.7L1617.0,787.1L1618.7,786.8L1620.3,786.5L1621.9,785.6L1623.4,785.4L1624.8,785.0L1626.2,785.4L1629.9,785.8L1632.9,785.6L1635.3,785.0L1637.1,783.8L1638.7,783.1L1639.9,782.2L1641.0,781.4L1642.5,782.0L1643.8,781.7L1645.5,782.2L1647.3,781.8L1649.5,782.1L1652.2,781.8L1653.7,781.4L1655.3,781.5L1656.9,782.3L1658.5,782.9L1660.2,782.4L1661.9,781.5L1663.7,781.8L1665.5,781.6L1667.3,782.0L1669.2,781.4L1671.1,782.5L1673.0,783.0L1675.0,782.4L1677.0,782.4L1679.1,782.8L1681.1,784.3L1683.2,784.7L1685.5,783.7L1687.7,783.7L1690.0,783.2L1692.2,785.2L1694.6,784.4L1696.9,784.5L1699.4,783.4L1701.8,784.2L1704.3,784.3L1706.0,783.9L1707.7,783.3L1709.5,782.6L1711.2,783.2L1713.0,783.3L1714.9,784.4L1716.7,784.1L1718.6,784.8L1720.5,784.5L1722.5,784.2L1724.4,783.7L1726.4,783.4L1728.4,784.0L1730.4,784.3L1732.4,784.5L1734.5,784.2L1736.5,782.7L1738.6,782.9L1740.6,783.1L1742.7,784.1L1744.8,784.0L1746.9,782.2L1749.0,781.8L1751.1,781.4L1753.2,783.0L1755.3,783.1L1757.5,783.7L1759.6,783.3L1761.7,784.5L1763.8,784.2L1765.9,785.0L1768.0,784.1L1770.0,783.5L1772.1,783.5L1774.2,783.5L1776.2,784.5L1778.3,783.4L1780.3,781.9L1782.3,781.2L1784.3,781.1L1786.3,782.5L1788.3,783.1L1790.3,784.7L1792.3,784.4L1794.3,783.7L1796.3,781.7L1798.3,781.4L1800.3,781.4L1802.3,782.8L1804.3,782.8L1806.3,783.1L1808.3,781.7L1810.3,781.9L1812.3,781.9L1814.3,782.2L1816.3,782.2L1818.3,782.3L1820.3,782.5L1822.3,783.0L1824.3,782.5L1826.4,783.1L1828.4,782.3L1830.4,782.2L1832.4,782.4L1834.4,781.8L1836.4,781.7L1838.4,781.7L1840.4,782.4L1842.4,782.7L1844.4,782.1L1846.4,781.5L1848.4,781.7L1850.4,782.3L1852.4,782.5L1854.4,782.1L1856.4,782.2L1858.4,782.8L1860.4,782.7L1862.4,782.2L1864.4,781.5L1866.5,781.9L1868.6,782.3L1870.7,783.5L1872.8,783.9L1875.0,783.7L1877.1,782.8L1879.2,781.2L1881.4,781.0L1883.5,780.8L1885.7,781.7L1887.9,781.8L1890.1,781.6L1892.3,782.2L1894.4,781.7L1896.6,781.8L1898.7,780.5L1900.9,781.4L1903.0,782.2L1905.2,783.2L1907.2,782.0L1909.3,781.8L1911.4,781.4L1913.4,782.1L1915.5,782.1L1917.4,781.6L1919.4,781.7L1921.3,781.6L1923.2,782.2L1925.1,781.0L1926.9,779.8L1928.7,779.6L1930.4,780.2L1932.2,781.6L1933.8,781.0L1935.4,781.0L1937.0,780.1L1938.5,780.3L1941.5,780.2L1944.4,780.2L1947.1,780.2L1949.8,780.2L1952.3,780.3L1954.8,780.1L1957.1,779.8L1959.3,780.6L1961.4,781.3L1963.4,782.4L1965.2,781.5L1967.0,780.4L1968.7,779.5L1970.2,779.6L1971.7,779.9L1973.0,780.4L1974.3,779.7L1975.4,779.7L1976.5,780.5"/>
<path stroke="#0000ff" d="M304.1,461.2L305.7,462.4L307.4,463.5L309.0,464.7L310.6,465.9L312.2,467.1L313.9,468.2L315.5,469.4L317.2,470.5L318.8,471.7L320.5,472.8L322.2,473.9L323.8,475.0L325.5,476.1L327.2,477.2L328.9,478.3L330.6,479.4L332.3,480.5L334.0,481.6L335.7,482.7L337.4,483.8L339.1,484.8L340.8,485.9L342.5,486.9L344.2,488.0L346.0,489.0L347.7,490.1L349.4,491.1L351.1,492.2L352.9,493.2L354.6,494.2L356.3,495.2L358.1,496.3L359.8,497.3L361.6,498.3L363.3,499.3L365.0,500.4L366.8,501.4L368.5,502.4L370.3,503.4L372.0,504.4L373.8,505.4L375.5,506.4L377.3,507.4L379.0,508.4L380.8,509.5L382.5,510.5L384.3,511.5L386.0,512.5L387.8,513.5L389.5,514.5L391.3,515.5L393.0,516.5L394.7,517.6L396.5,518.6L398.2,519.6L400.0,520.6L401.7,521.7L403.4,522.7L405.2,523.7L406.9,524.8L408.6,525.8L410.3,526.8L412.0,527.9L413.8,528.9L415.5,530.0L417.2,531.0L418.9,532.1L420.6,533.2L422.3,534.2L424.0,535.3L425.7,536.4L427.4,537.5L429.1,538.6L430.7,539.7L432.4,540.8L434.1,541.9L435.8,543.0L437.4,544.1L439.1,545.2L440.7,546.4L442.4,547.5L444.1,548.6L445.7,549.8L447.3,550.9L449.0,552.1L450.6,553.3L452.2,554.4L453.9,555.6L455.5,556.8L457.1,558.0L458.7,559.1L460.3,560.3L461.9,561.5L463.5,562.7L465.1,564.0L466.7,565.2L468.3,566.4L469.9,567.6L471.5,568.9L473.0,570.1L474.6,571.4L476.2,572.6L477.7,573.9L479.3,575.2L480.8,576.4L482.4,577.7L483.9,579.0L485.5,580.3L487.0,581.6L488.5,582.9L490.0,584.2L491.6,585.6L493.1,586.9L494.6,588.2L496.1,589.6L497.6,590.9L499.1,592.3L500.5,593.6L502.0,595.0L503.5,596.4L505.0,597.8L506.4,599.2L507.9,600.6L509.3,602.0L510.8,603.4L512.2,604.8L513.6,606.3L515.0,607.7L516.5,609.1L517.9,610.6L519.3,612.0L520.6,613.5L522.0,615.0L523.4,616.5L524.8,618.0L526.1,619.5L527.5,621.0L528.8,622.5L530.1,624.0L531.5,625.5L532.8,627.1L534.1,628.6L535.4,630.2L536.6,631.7L537.9,633.3L539.2,634.9L540.4,636.5L541.7,638.1L542.9,639.7L544.1,641.3L545.4,642.9L546.6,644.5L547.8,646.1L548.9,647.8L550.1,649.4L551.3,651.1L552.4,652.8L553.6,654.4L554.7,656.1L555.8,657.8L556.9,659.5L558.0,661.2L559.1,662.9L560.2,664.6L561.3,666.3L562.4,668.0L563.5,669.7L564.6,671.4L565.7,673.1L566.8,674.8L567.9,676.5L569.0,678.1L570.2,679.8L571.3,681.5L572.4,683.2L573.5,684.8L574.7,686.5L575.8,688.1L577.0,689.8L578.2,691.4L579.4,693.0L580.6,694.6L581.8,696.2L583.0,697.7L584.3,699.3L585.5,700.8L586.8,702.4L588.1,703.9L589.4,705.4L590.8,706.8L592.1,708.3L593.5,709.7L594.9,711.1L596.4,712.5L597.8,713.8L599.3,715.2L600.8,716.5L602.3,717.7L603.9,719.0L605.4,720.2L607.0,721.3L608.7,722.5L610.3,723.6L612.0,724.6L613.7,725.6L615.4,726.6L617.1,727.6L618.9,728.5L620.7,729.3L622.5,730.1L624.4,730.9L626.2,731.6L628.1,732.2L630.1,732.8L632.0,733.4L634.0,733.9L636.0,734.4L638.0,734.8L640.0,735.2L642.1,735.6L644.1,735.9L646.2,736.3L648.2,736.6L650.3,736.9L652.3,737.2L654.3,737.5L656.3,737.9L658.3,738.2L660.3,738.6L662.3,739.0L664.2,739.3L666.1,739.7L668.1,740.0L670.0,740.4L671.9,740.6L673.9,740.9L675.8,741.1L677.8,741.2L679.8,741.3L681.8,741.4L683.8,741.5L685.8,741.5L687.8,741.5L689.8,741.6L691.8,741.6L693.9,741.6L695.9,741.7L698.0,741.7L700.0,741.9L702.0,742.6L704.1,741.9L706.0,742.9L708.0,743.2L709.9,743.9L711.9,744.4L713.8,744.9L715.7,745.5L717.9,745.1L719.7,746.2L721.4,747.5L723.2,748.4L725.2,748.7L727.5,748.3L729.2,749.5L731.1,750.1L732.7,751.6L734.8,751.9L736.4,753.2L738.7,753.1L740.0,754.9L741.7,756.0L743.0,757.9L744.9,758.6L747.4,758.4L749.2,759.2L751.5,759.4L752.6,761.4L754.3,762.5L755.8,763.9L757.9,764.4L759.0,766.3L761.0,767.0L762.6,768.2L764.3,769.3L765.1,771.5L766.6,772.8L768.4,773.7L769.7,775.1L771.1,776.5L772.2,778.2L773.4,779.7L774.6,781.1L776.3,782.2L778.9,782.8L779.7,784.7L780.3,786.7L780.3,789.1L782.2,790.2L783.1,792.1L783.8,794.0L784.0,796.3L785.9,797.5L788.1,798.6L789.3,800.2L790.6,801.7L791.8,803.3L793.1,804.8L794.0,806.6L795.2,808.3L796.7,809.6L797.2,811.8L798.5,813.3L799.3,815.2L800.9,816.5L801.5,818.5L802.9,820.0L803.9,821.8L805.1,823.3L806.1,825.1L806.8,827.0L807.3,829.0L808.4,830.7L809.3,832.4L811.7,833.5L812.3,835.5L813.3,837.3L813.0,839.6L814.1,841.3L814.5,843.3L815.4,845.2L816.2,847.0L816.6,849.0L816.6,851.1L817.4,853.0L818.4,854.8L819.8,856.5L818.9,858.9L818.9,861.0L818.4,863.1L820.1,864.8L820.3,866.8L821.3,868.7L821.1,870.7L821.8,872.7L821.8,874.7L822.4,876.6L822.6,878.6L823.2,880.6L822.9,882.6L824.1,884.5L824.5,886.5L824.8,888.5L824.9,890.5L824.3,892.6L824.3,894.6L823.7,896.7L824.5,898.6L824.8,900.6L825.0,902.6L824.7,904.7L825.7,906.7L826.3,908.7L825.2,910.7L824.7,912.7L824.7,914.8L826.5,916.8L826.1,918.8L826.0,920.8L825.4,922.9L825.4,924.9L824.8,926.9L824.8,928.9L825.9,931.0L826.1,933.0L826.1,935.0L825.0,937.0L825.0,939.1L825.7,941.0L826.2,943.0L827.5,944.8L826.8,947.0L827.3,948.9L827.3,951.1L828.7,952.8L830.1,954.6L831.2,952.5L831.2,950.4L831.0,948.4L829.3,946.3L829.4,944.3L829.0,942.2L829.6,940.2L829.7,938.1L829.8,936.1L830.4,934.1L829.8,932.0L830.8,930.1L830.2,928.0L831.7,926.1L831.9,924.1L833.4,922.3L833.1,920.2L832.5,918.2L831.7,916.1L832.2,914.1L832.4,912.2L832.6,910.2L832.6,908.2L832.1,906.1L831.6,904.0L831.8,902.1L832.8,900.2L834.1,898.3L834.5,896.3L834.5,894.3L834.3,892.3L834.5,890.3L834.7,888.3L835.3,886.3L835.1,884.3L835.4,882.3L835.1,880.2L835.5,878.2L835.8,876.1L835.9,874.1L836.6,872.1L837.2,870.1L837.5,868.1L837.4,866.0L837.7,864.0L838.0,861.9L837.8,859.9L837.3,857.7L837.7,855.7L837.9,853.7L838.8,851.7L838.9,849.6L839.3,847.6L840.0,845.7L840.8,843.8L841.5,841.8L841.6,839.8L841.8,837.8L842.6,835.9L843.1,834.0L843.6,832.0L843.6,829.9L844.1,828.0L844.7,826.1L845.0,824.1L846.0,822.3L846.6,820.4L847.7,818.7L847.4,816.5L848.4,814.7L849.2,812.9L850.5,811.3L850.8,809.2L851.6,807.4L852.9,805.8L854.5,804.5L854.9,802.4L855.8,800.6L856.4,798.6L858.2,797.4L859.5,795.9L861.2,794.7L862.4,793.2L863.1,791.1L864.6,789.8L866.1,788.6L867.4,787.0L868.6,785.4L869.6,783.5L870.9,782.0L872.5,780.7L874.5,780.0L876.6,779.4L877.8,777.6L879.3,776.2L881.0,775.2L883.0,774.5L885.2,774.2L887.2,773.7L888.9,772.5L890.5,771.1L892.2,769.9L894.4,769.7L896.1,768.5L897.9,767.5L899.7,766.5L901.8,766.0L903.3,764.3L904.8,762.8L906.9,762.5L908.8,761.8L910.8,761.2L912.2,759.6L914.3,759.2L916.1,758.5L918.1,758.0L919.9,757.3L921.8,756.7L923.3,755.5L925.1,754.6L926.6,753.3L928.3,752.0L930.3,751.9L932.1,750.4L934.3,750.7L936.5,750.7L937.9,749.7L940.1,750.4L942.8,751.5L945.6,751.4L948.2,750.7L950.5,749.4L952.0,748.0L952.9,745.8L954.3,743.6L954.5,740.9L955.2,738.9L956.3,737.1L957.5,739.2L958.3,742.1L958.3,744.5L959.1,746.7L960.3,747.0L961.8,747.1L963.2,745.7L964.9,744.9L966.6,743.4L968.8,743.3L971.0,742.5L973.5,742.3L975.8,741.7L978.4,741.5L980.9,741.7L983.2,741.2L985.1,741.0L986.8,739.3L988.5,737.7L990.6,737.4L992.7,737.5L995.0,739.0L997.2,739.0L999.3,738.7L1001.2,737.1L1003.4,736.8L1005.5,736.6L1007.8,737.0L1010.0,737.1L1012.0,736.1L1013.9,735.0L1016.0,734.7L1018.2,735.3L1020.5,736.3L1022.2,734.2L1024.2,733.7L1026.0,731.9L1028.2,732.3L1030.3,732.3L1032.5,732.1L1034.8,733.0L1036.9,732.8L1038.9,731.9L1040.8,730.4L1042.9,729.4L1045.3,730.9L1047.2,730.7L1049.3,730.6L1051.5,728.8L1053.8,728.1L1056.1,728.3L1058.5,728.9L1060.8,729.8L1063.1,729.4L1065.4,729.7L1067.7,730.5L1069.9,730.4L1071.9,730.9L1073.9,730.8L1075.7,731.4L1077.3,730.4L1078.8,729.8L1079.7,728.9L1084.1,727.8L1084.8,724.9L1084.1,725.2L1082.7,725.4L1083.5,728.5L1086.4,731.3L1088.9,731.1L1090.6,730.0L1092.4,728.4L1094.4,727.9L1096.7,727.9L1099.3,728.7L1101.8,728.0L1104.5,728.0L1107.4,728.2L1109.2,728.5L1111.0,727.8L1112.7,726.6L1114.6,725.2L1116.6,724.8L1118.6,724.2L1120.9,724.9L1123.1,724.9L1125.3,724.5L1127.4,723.9L1129.6,723.3L1131.9,723.8L1134.0,723.4L1136.3,724.1L1138.3,723.1L1140.3,722.2L1142.1,720.0L1144.3,719.5L1146.7,720.2L1149.3,721.8L1151.7,722.3L1153.8,721.2L1155.9,720.0L1157.8,718.1L1159.9,718.1L1161.9,716.7L1163.9,717.0L1165.8,716.9L1167.6,717.6L1169.3,718.8L1172.3,718.6L1174.9,718.2L1177.2,718.7L1179.0,719.8L1180.5,721.4L1182.6,721.7L1184.8,721.5L1186.7,722.6L1188.6,723.5L1190.4,723.9L1192.4,723.4L1194.6,722.5L1197.1,722.0L1200.0,721.5L1201.6,721.1L1203.1,722.1L1204.8,722.3L1206.5,722.2L1208.3,721.4L1210.2,721.8L1212.1,722.7L1214.1,722.6L1216.1,721.8L1218.3,721.6L1220.5,721.6L1222.7,721.8L1225.1,722.0L1227.5,722.2L1230.0,722.7L1231.7,722.4L1233.4,722.8L1235.2,722.1L1237.0,721.7L1238.8,721.9L1240.7,721.3L1242.7,723.0L1244.6,722.7L1246.6,723.7L1248.6,722.4L1250.5,721.1L1252.5,720.4L1254.5,719.8L1256.6,720.0L1258.7,719.5L1260.9,720.1L1263.0,719.5L1265.1,719.5L1267.3,719.4L1269.5,720.3L1271.7,719.9L1273.8,719.7L1276.0,719.1L1277.9,719.6L1279.8,718.6L1281.7,719.2L1283.7,717.9L1285.7,718.7L1287.7,718.0L1289.8,719.3L1291.9,717.9L1293.9,717.8L1296.0,717.5L1298.1,718.1L1300.3,719.2L1302.4,718.1L1304.5,718.6L1306.6,716.9L1308.7,717.7L1310.7,718.1L1312.8,719.0L1314.8,719.4L1316.9,719.2L1318.9,719.2L1320.8,719.3L1322.7,720.4L1324.6,720.7L1326.5,720.6L1328.3,719.6L1330.1,718.8L1332.5,718.4L1334.7,718.3L1336.8,719.6L1338.8,720.5L1340.7,721.5L1342.8,721.1L1344.7,721.4L1346.6,721.3L1348.4,721.9L1350.4,721.4L1352.2,721.7L1354.1,721.7L1355.9,722.3L1357.8,722.7L1359.8,722.2L1361.8,721.9L1363.9,721.9L1365.8,723.3L1367.9,723.8L1370.1,724.4L1372.0,724.1L1373.8,724.5L1375.8,723.6L1377.8,723.5L1379.7,723.6L1381.7,724.3L1383.8,723.8L1385.8,724.0L1388.0,722.7L1390.0,723.7L1392.2,721.9L1394.2,723.3L1396.3,723.4L1398.3,725.4L1400.4,725.2L1402.5,724.9L1404.6,723.5L1406.7,724.8L1408.7,724.3L1410.7,726.0L1412.6,725.6L1414.6,726.9L1416.5,726.7L1418.4,726.0L1420.2,724.6L1422.4,724.5L1424.7,724.7L1427.0,726.4L1429.2,725.7L1431.4,725.3L1433.6,725.4L1435.8,725.3L1438.0,725.7L1440.1,724.7L1442.2,724.8L1444.2,723.9L1446.1,723.2L1448.0,722.3L1449.9,721.7L1451.9,723.0L1453.8,724.1L1455.5,724.1L1457.2,723.3L1458.8,723.4L1460.3,724.3L1463.0,723.4L1465.4,722.2L1467.3,722.9L1468.9,723.5L1470.2,724.7L1471.7,725.3L1473.3,725.9L1475.4,725.2L1477.8,724.1L1480.4,724.8L1481.9,726.0L1483.5,726.5L1485.2,726.7L1487.0,726.1L1488.9,726.0L1490.9,725.3L1492.8,726.5L1494.9,726.7L1496.9,727.3L1499.0,727.8L1501.2,727.2L1503.3,727.6L1505.5,727.2L1507.7,727.4L1509.8,726.3L1512.0,726.0L1514.1,727.2L1516.2,728.0L1518.3,728.0L1520.3,726.7L1522.3,725.8L1524.4,725.9L1526.5,726.9L1528.7,727.3L1530.8,726.6L1532.9,725.6L1535.1,726.1L1537.3,726.3L1539.4,725.3L1541.6,724.7L1543.7,725.0L1545.8,726.0L1547.8,725.2L1549.9,726.2L1551.8,725.9L1553.7,727.0L1555.5,725.9L1557.2,725.4L1558.9,724.8L1560.4,724.8L1563.4,725.8L1565.7,726.9L1567.7,727.0L1569.5,726.9L1571.3,726.3L1573.0,726.4L1574.7,727.7L1577.1,727.9L1580.0,728.0L1581.5,727.9L1583.1,727.3L1584.9,727.6L1586.7,727.6L1588.7,728.4L1590.6,727.0L1592.7,727.0L1594.8,727.1L1597.0,728.3L1599.2,728.3L1601.4,728.4L1603.5,726.9L1605.6,726.2L1607.7,725.2L1609.9,726.2L1612.0,725.3L1614.0,724.7L1616.0,723.2L1618.0,723.1L1619.9,724.0L1622.2,726.0L1624.4,727.5L1626.5,727.6L1628.6,726.7L1630.8,725.9L1633.0,725.4L1635.1,725.8L1637.2,725.6L1639.2,725.7L1641.2,725.4L1643.2,724.5L1645.1,725.4L1647.0,724.7L1648.9,725.6L1650.7,725.6L1652.5,726.5L1654.1,725.6L1656.5,724.7L1658.6,723.1L1660.9,722.7L1662.7,721.1L1664.7,720.0L1666.6,718.8L1668.6,718.0L1670.5,717.2L1672.3,716.4L1674.2,716.1L1675.9,715.4L1678.4,716.0L1680.2,715.2L1681.8,715.8L1683.4,716.1L1685.1,716.4L1687.3,716.9L1690.1,716.7L1691.8,716.3L1693.5,716.4L1695.3,716.9L1697.1,717.3L1699.0,718.2L1701.0,718.6L1702.9,720.3L1705.1,720.2L1707.3,720.7L1709.7,719.7L1711.9,719.8L1714.1,719.5L1716.1,720.8L1718.2,720.8L1720.1,721.2L1722.1,720.6L1723.9,721.2L1725.7,721.0L1727.6,722.0L1729.5,722.2L1731.3,722.0L1733.2,722.2L1734.9,721.0L1736.8,720.7L1738.6,719.7L1740.8,720.0L1742.9,720.1L1745.2,720.0L1747.6,720.2L1750.2,720.2L1751.8,720.1L1753.6,719.8L1755.4,720.3L1757.4,720.3L1759.4,720.8L1761.5,720.4L1763.6,720.7L1765.8,721.2L1768.1,720.7L1770.3,721.1L1772.6,720.8L1774.8,721.6L1777.1,721.9L1779.3,722.2L1781.5,722.9L1783.7,722.5L1785.9,722.7L1787.9,723.4L1789.9,724.2L1791.8,725.0L1793.7,724.2L1795.6,724.0L1797.3,723.9L1798.8,725.0L1800.2,724.7L1803.3,725.1L1805.5,723.9L1807.3,724.4L1808.7,723.9L1810.0,723.8L1811.6,724.1L1813.2,724.1L1814.9,723.8L1817.2,722.9L1820.1,721.0L1821.6,721.2L1823.1,721.5L1824.8,722.0L1826.4,722.1L1828.2,722.3L1830.0,722.1L1831.8,721.6L1833.6,720.6L1835.6,721.0L1837.6,721.2L1839.6,720.3L1841.7,720.1L1843.8,719.7L1845.9,720.1L1848.1,720.5L1850.3,721.0L1852.5,721.5L1854.7,719.8L1856.9,719.6L1859.2,719.4L1861.4,720.4L1863.6,720.2L1865.9,720.1L1868.1,720.4L1870.3,720.4L1872.2,720.5L1874.0,721.2L1876.0,721.1L1878.0,721.1L1880.1,720.9L1882.1,721.9L1884.2,722.3L1886.2,723.1L1888.5,722.0L1890.7,722.0L1893.1,721.0L1895.1,722.7L1897.3,723.1L1899.4,723.9L1901.6,724.2L1903.7,724.6L1905.9,724.4L1908.2,724.1L1910.1,725.5L1912.1,726.6L1914.0,727.8L1916.1,727.0L1918.1,727.3L1920.1,726.5L1922.0,726.6L1923.8,726.8L1925.6,727.1L1927.2,727.1L1928.9,726.6L1930.4,726.6L1933.3,727.2L1936.0,727.7L1938.7,728.2L1941.0,727.6L1943.4,727.6L1945.4,727.0L1947.4,726.5L1949.0,724.8L1950.7,724.1L1952.3,723.4L1954.2,723.9L1955.7,723.0L1957.3,722.7L1958.9,723.1L1960.4,722.5L1963.2,722.2L1965.9,720.6L1968.4,721.7L1970.6,722.2L1972.5,723.5L1974.2,723.8L1975.8,723.6L1977.0,723.0"/>
</g>
<g font-size="67" font-weight="bold" fill="#000">
<text transform="translate(309.8,1329) scale(1,1.043)" text-anchor="middle">-0.8</text>
<text transform="translate(566.0,1329) scale(1,1.043)" text-anchor="middle">-0.6</text>
<text transform="translate(822.2,1329) scale(1,1.043)" text-anchor="middle">-0.4</text>
<text transform="translate(1078.4,1329) scale(1,1.043)" text-anchor="middle">-0.2</text>
<text transform="translate(1334.6,1329) scale(1,1.043)" text-anchor="middle">0.0</text>
<text transform="translate(1590.8,1329) scale(1,1.043)" text-anchor="middle">0.2</text>
<text transform="translate(1847.0,1329) scale(1,1.043)" text-anchor="middle">0.4</text>
<text transform="translate(300,149.2) scale(0.965,1.043)" text-anchor="end">1x10<tspan font-size="40" dy="-36">-3</tspan></text>
<text transform="translate(300,374.8) scale(0.965,1.043)" text-anchor="end">1x10<tspan font-size="40" dy="-36">-5</tspan></text>
<text transform="translate(300,600.4) scale(0.965,1.043)" text-anchor="end">1x10<tspan font-size="40" dy="-36">-7</tspan></text>
<text transform="translate(300,826.0) scale(0.965,1.043)" text-anchor="end">1x10<tspan font-size="40" dy="-36">-9</tspan></text>
<text transform="translate(300,1051.6) scale(0.965,1.043)" text-anchor="end">1x10<tspan font-size="40" dy="-36">-11</tspan></text>
<text transform="translate(300,1277.2) scale(0.965,1.043)" text-anchor="end">1x10<tspan font-size="40" dy="-36">-13</tspan></text>
</g>
<text transform="translate(1143.5,1426.7) scale(0.966,1.04)" text-anchor="middle" font-size="78" font-weight="bold"><tspan font-style="italic">E</tspan>/<tspan font-style="italic">V</tspan> vs.AgCl</text>
<text transform="translate(97.8,850) rotate(-90) scale(0.976,1.04)" font-size="78" font-weight="bold"><tspan font-style="italic">I</tspan><tspan dx="-3.0"> /A&#183;cm</tspan><tspan font-size="50" font-weight="normal" dx="-1.6" dy="-34.7">&#8722;</tspan><tspan font-size="50" dx="-4.1" dy="-5.3">2</tspan></text>
<rect x="1086" y="931" width="180" height="10" rx="3" fill="#000"/>
<rect x="1086" y="1012" width="180" height="11" rx="3" fill="#0000ff"/>
<rect x="1086" y="1094" width="180" height="10" rx="3" fill="#ff0000"/>
<g font-size="67" fill="#000">
<text x="1277" y="959">Unocated sample</text>
<text x="1277" y="1040">Coating with stirring</text>
<text x="1277" y="1120">Coating without stirring</text>
</g>
</svg>
</body></html>
